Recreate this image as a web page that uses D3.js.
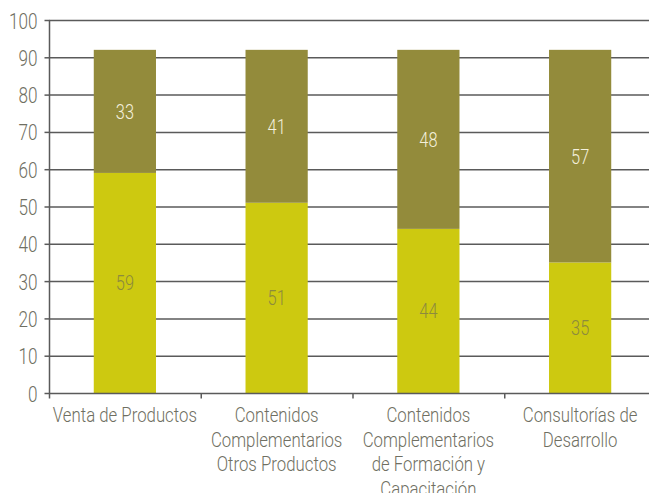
<!DOCTYPE html>
<html><head><meta charset="utf-8">
<script src="https://cdn.jsdelivr.net/npm/d3@7/dist/d3.min.js"></script>
<style>
html,body{margin:0;padding:0;background:#fff;}
svg text{font-family:Roboto,"DejaVu Sans Condensed",sans-serif;font-weight:300;}
</style></head>
<body><svg id="c" width="649" height="493"></svg>
<script>
const categories = [
  ["Venta de Productos"],
  ["Contenidos","Complementarios","Otros Productos"],
  ["Contenidos","Complementarios","de Formación y","Capacitación"],
  ["Consultorías de","Desarrollo"]
];
const seriesLower = [59, 51, 44, 35];
const seriesUpper = [33, 41, 48, 57];
const yTicks = [0,10,20,30,40,50,60,70,80,90,100];

const svg = d3.select("#c");
const mLeft = 49, mRight = 656, mTop = 20, mBottom = 393;
const keys = categories.map((c,i)=>i);
const x = d3.scaleBand().domain(keys).range([mLeft,mRight]).padding(0);
const y = d3.scaleLinear().domain([0,100]).range([mBottom,mTop]);
const barW = x.bandwidth()*0.41;
const textColor = "#6f6f62";
const sxNum = 0.78, sxLab = 0.84;

// condensed text helper: places text at (px,py) and squeezes horizontally
function ctext(parent, px, py, str, size, fill, anchor, sx){
  return parent.append("text")
    .attr("transform",`translate(${px},${py}) scale(${sx},1)`)
    .attr("text-anchor",anchor).attr("font-size",size).attr("fill",fill).text(str);
}

// gridlines
svg.append("g").selectAll("line").data(yTicks.filter(d=>d>0)).join("line")
  .attr("x1", mLeft).attr("x2", 649)
  .attr("y1", d=>y(d)+0.5).attr("y2", d=>y(d)+0.5)
  .attr("stroke","#5a5a5a").attr("stroke-width",1.5);

// bars
const g = svg.append("g");
keys.forEach(i=>{
  const bx = x(i) + (x.bandwidth()-barW)/2;
  g.append("rect").attr("x",bx).attr("width",barW)
    .attr("y",y(seriesLower[i])).attr("height",y(0)-y(seriesLower[i]))
    .attr("fill","#cdc910");
  g.append("rect").attr("x",bx).attr("width",barW)
    .attr("y",y(seriesLower[i]+seriesUpper[i])).attr("height",y(seriesLower[i])-y(seriesLower[i]+seriesUpper[i]))
    .attr("fill","#938b3b");
  ctext(g, bx+barW/2, y(seriesLower[i]/2)+7.5, seriesLower[i], 21, "#8c8a3e", "middle", sxNum);
  ctext(g, bx+barW/2, y(seriesLower[i]+seriesUpper[i]/2)+7.5, seriesUpper[i], 21, "#f4f0dc", "middle", sxNum);
});

// y axis
const ya = svg.append("g").attr("transform",`translate(${mLeft+0.5},0)`)
  .call(d3.axisLeft(y).tickValues(yTicks).tickSize(5).tickFormat(d3.format("d")));
ya.select(".domain").attr("stroke","#5a5a5a").attr("stroke-width",1.5).attr("d",`M0,${mTop}V${mBottom}`);
ya.selectAll(".tick line").attr("stroke","#5a5a5a").attr("stroke-width",1.5);
ya.selectAll(".tick text").remove();
ya.selectAll(".tick").each(function(d){
  ctext(d3.select(this), -12, 8, d, 22, textColor, "end", sxNum)
    .attr("font-family","Roboto,sans-serif");
});

// x axis
const xa = svg.append("g").attr("transform",`translate(0,${mBottom+0.5})`);
xa.append("line").attr("x1",mLeft).attr("x2",649).attr("stroke","#5a5a5a").attr("stroke-width",1.5);
xa.selectAll(".tk").data(keys).join("line").attr("class","tk")
  .attr("x1",d=>x(d)+0.5).attr("x2",d=>x(d)+0.5).attr("y1",0).attr("y2",5)
  .attr("stroke","#5a5a5a").attr("stroke-width",1.5);
keys.forEach(i=>{
  categories[i].forEach((ln,j)=>{
    ctext(xa, x(i)+x.bandwidth()/2, 28.5+j*24.5, ln, 20, textColor, "middle", sxLab);
  });
});
</script></body></html>
